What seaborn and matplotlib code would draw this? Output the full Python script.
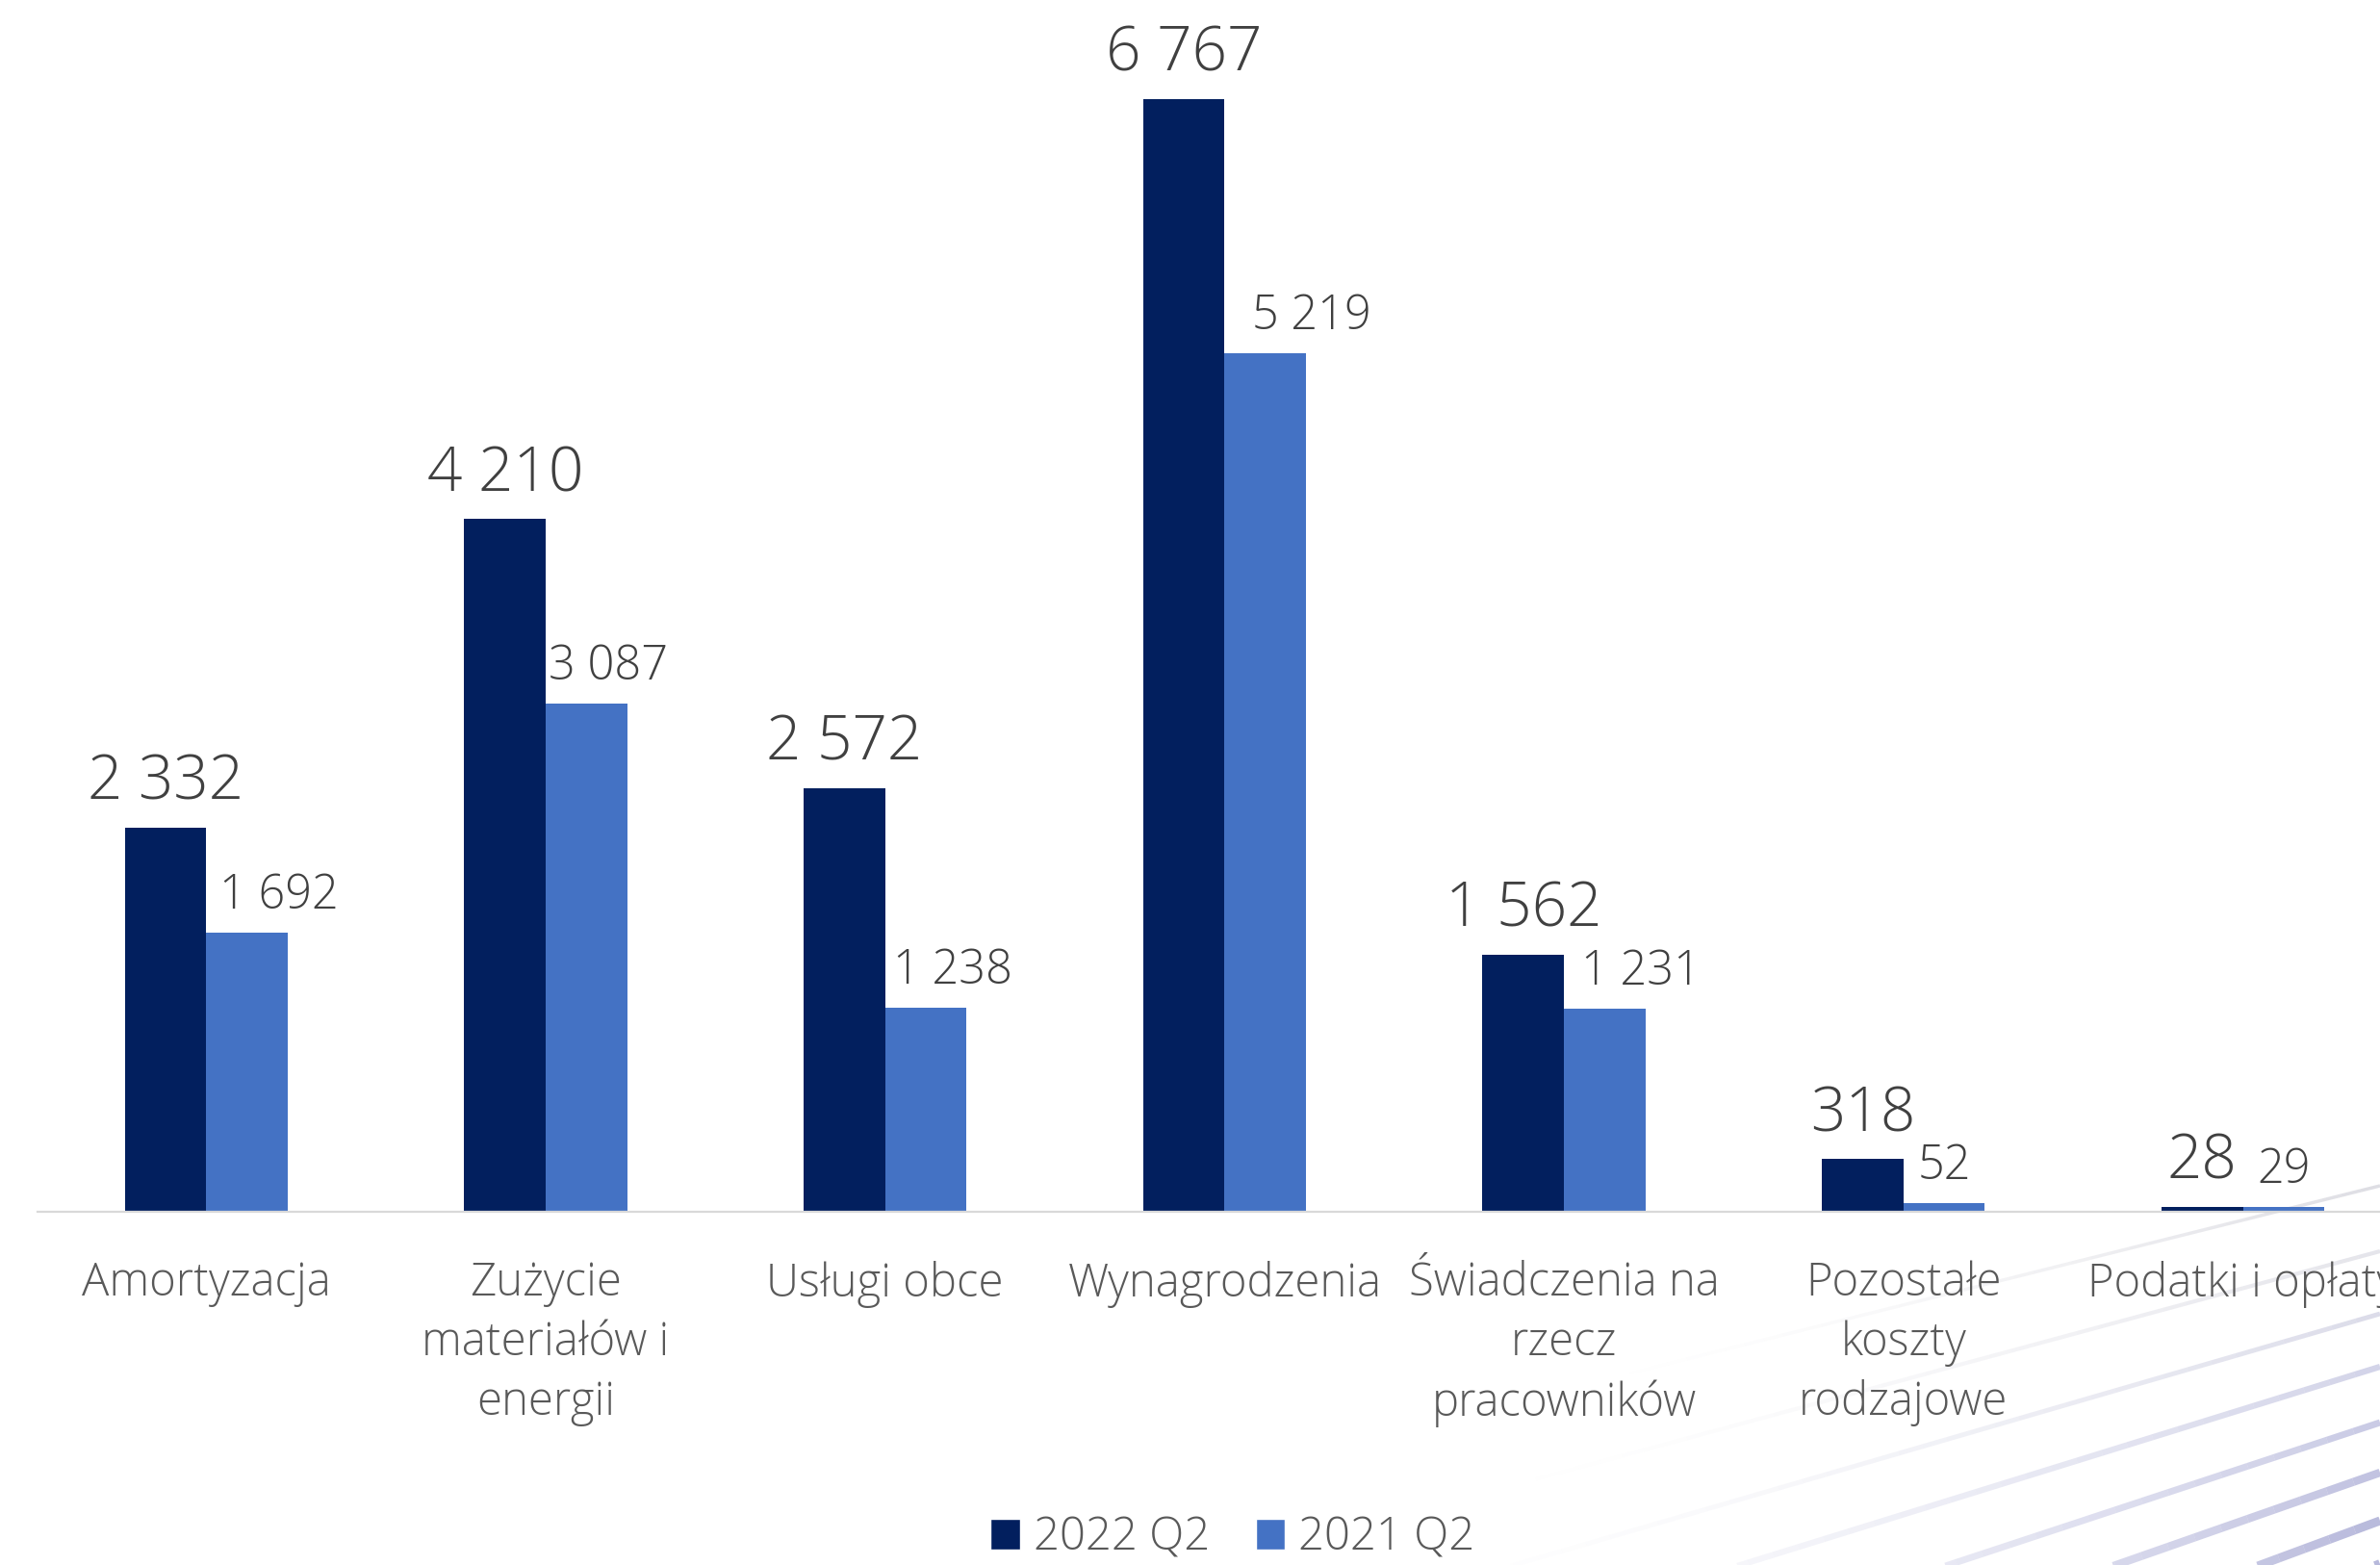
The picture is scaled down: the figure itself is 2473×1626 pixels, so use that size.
import numpy as np
import pandas as pd
import matplotlib
matplotlib.use("Agg")
import matplotlib.pyplot as plt
from matplotlib.lines import Line2D
from matplotlib.patches import Patch
import seaborn as sns

# ---- data ----
categories = ["Amortyzacja", "Zużycie\nmateriałów i\nenergii", "Usługi obce", "Wynagrodzenia",
              "Świadczenia na\nrzecz\npracowników", "Pozostałe\nkoszty\nrodzajowe", "Podatki i opłaty"]
series_names = ["2022 Q2", "2021 Q2"]
values_2022 = [2332, 4210, 2572, 6767, 1562, 318, 28]
values_2021 = [1692, 3087, 1238, 5219, 1231, 52, 29]

# ---- style ----
DARK = "#021F5E"
LIGHT = "#4472C4"
VAL_COLOR = "#404040"
TXT_COLOR = "#595959"
AXIS_COLOR = "#D9D9D9"
# horizontal nudges (points) of the 2021 value labels, as placed in the original
label_dx_2021 = [24, 16, 20, 35, 27, 0, 0]

sns.set_theme(style="white")
plt.rcParams['font.family'] = ['Open Sans', 'DejaVu Sans']
plt.rcParams['font.weight'] = 'light'

df = pd.DataFrame({
    "category": categories * 2,
    "series": [series_names[0]] * len(categories) + [series_names[1]] * len(categories),
    "value": values_2022 + values_2021,
})

W, H = 2473, 1626
fig = plt.figure(figsize=(W / 100, H / 100), dpi=100)
fig.patch.set_facecolor("white")

# decorative background lines in the bottom-right corner (pixel geometry of the backdrop)
deco = [  # (y at right edge px, slope, length px, color, max alpha, width)
    (1232, -0.25, 800, "#BDBDC8", 0.50, 2.5),
    (1300, -0.27, 900, "#C4C4D2", 0.45, 3.0),
    (1365, -0.29, 1000, "#B8B9D4", 0.50, 3.5),
    (1420, -0.31, 1050, "#AEB0D6", 0.55, 4.5),
    (1478, -0.33, 1100, "#A6A8D4", 0.60, 5.0),
    (1530, -0.35, 1100, "#9FA1D0", 0.65, 6.0),
    (1580, -0.37, 1050, "#9A9CCD", 0.70, 6.5),
    (1625, -0.39, 1000, "#9799CB", 0.70, 7.0),
    (1670, -0.41, 950, "#9597CA", 0.70, 7.5),
]
for y_r, slope, length, col, amax, lw in deco:
    n = 40
    xs = np.linspace(W - length, W, n + 1)
    ys = y_r + (xs - W) * slope
    for j in range(n):
        t = (j + 0.5) / n
        a = amax * t ** 1.6
        fig.add_artist(Line2D(xs[j:j + 2] / W, 1 - ys[j:j + 2] / H, transform=fig.transFigure,
                              color=col, alpha=a, lw=lw, zorder=0, solid_capstyle="butt"))

ax = fig.add_axes([25 / 1568, 1 - 798 / 1031, 1 - 25 / 1568, 798 / 1031])
ax.patch.set_alpha(0)
sns.barplot(data=df, x="category", y="value", hue="series", order=categories,
            hue_order=series_names, palette=[DARK, LIGHT], width=0.48, gap=0,
            linewidth=0, saturation=1, legend=False, ax=ax)

ax.set_xlim(-0.496, 6.404)
ax.set_ylim(0, 7367)
ax.set_yticks([])
ax.set_xlabel("")
ax.set_ylabel("")
for s in ["top", "right", "left"]:
    ax.spines[s].set_visible(False)
ax.spines["bottom"].set_color(AXIS_COLOR)
ax.spines["bottom"].set_linewidth(1.6)

ax.set_xticks(range(len(categories)))
ax.set_xticklabels(categories, fontsize=34, color=TXT_COLOR, linespacing=1.36,
                   fontweight='light')
ax.tick_params(axis="x", length=0, pad=37)

def fmt(v):
    return f"{v:,}".replace(",", " ")

for bar, v in zip(ax.containers[0], values_2022):
    ax.annotate(fmt(v), (bar.get_x() + bar.get_width() / 2, bar.get_height()),
                xytext=(0, 21), textcoords="offset points", ha="center", va="baseline",
                fontsize=46, color=VAL_COLOR, fontweight='light')
for bar, v, dx in zip(ax.containers[1], values_2021, label_dx_2021):
    ax.annotate(fmt(v), (bar.get_x() + bar.get_width() / 2, bar.get_height()),
                xytext=(dx, 18), textcoords="offset points", ha="center", va="baseline",
                fontsize=35, color=VAL_COLOR, fontweight='light')

handles = [Patch(facecolor=DARK, label=series_names[0]), Patch(facecolor=LIGHT, label=series_names[1])]
fig.legend(handles=handles, loc="lower center", bbox_to_anchor=(0.518, -0.024), ncol=2,
           frameon=False, handlelength=0.65, handleheight=0.65,
           handletextpad=0.3, columnspacing=1.0, labelcolor=TXT_COLOR,
           prop={'weight': 'light', 'size': 34})

fig.savefig("out.png", dpi=100, facecolor="white")
